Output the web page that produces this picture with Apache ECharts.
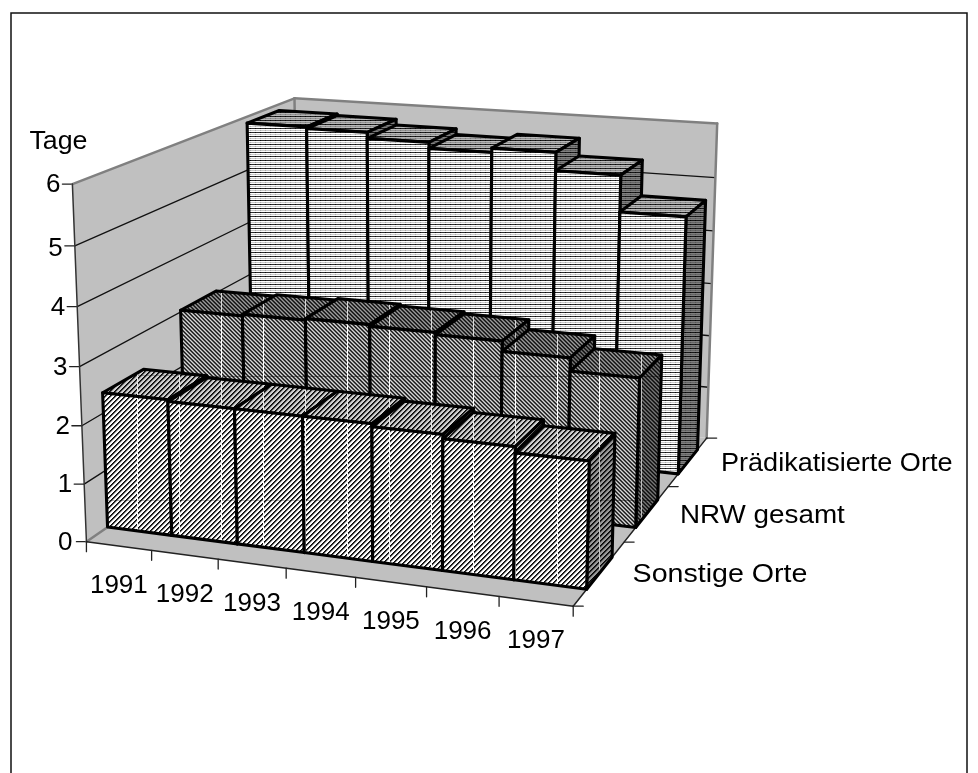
<!DOCTYPE html>
<html><head><meta charset="utf-8">
<style>html,body{margin:0;padding:0;background:#fff}#c{width:978px;height:773px}</style>
<script src="https://cdn.jsdelivr.net/npm/echarts@6/dist/echarts.min.js"></script>
</head><body><div id="c"></div>
<script>
var categories = ['1991','1992','1993','1994','1995','1996','1997'];
var rows = ['Sonstige Orte','NRW gesamt','Prädikatisierte Orte'];
var sonstige = [2.35,2.32,2.32,2.32,2.27,2.20,2.10];
var nrw = [3.03,3.06,3.09,3.06,3.02,2.84,2.61];
var praedikat = [5.88,5.85,5.74,5.63,5.71,5.38,4.72];
var yTicks = [0,1,2,3,4,5,6];
var yMax = 6;

// Plot box calibration: unit cube corner -> screen position
var box = [
  [0,0,0, 87,541],[1,0,0, 573,607],[1,1,0, 707,437],[0,1,0, 298,396],
  [0,0,1, 72,184],[1,1,1, 717,124],[0,1,1, 295,98]
];
var rowLabelStretch = [1.1,1.07,1.04];
function solve(A,b){var n=b.length;for(var i=0;i<n;i++){var m=i;for(var r=i+1;r<n;r++)if(Math.abs(A[r][i])>Math.abs(A[m][i]))m=r;
  var t=A[i];A[i]=A[m];A[m]=t;t=b[i];b[i]=b[m];b[m]=t;
  for(r=i+1;r<n;r++){var f=A[r][i]/A[i][i];for(var c=i;c<n;c++)A[r][c]-=f*A[i][c];b[r]-=f*b[i];}}
  var x=[];for(i=n-1;i>=0;i--){var s=b[i];for(c=i+1;c<n;c++)s-=A[i][c]*x[c];x[i]=s/A[i][i];}return x;}
function fit(){var M=[],v=[];box.forEach(function(p){var X=p[0],Y=p[1],Z=p[2],x=p[3],y=p[4];
  M.push([X,Y,Z,1,0,0,0,0,-x*X,-x*Y,-x*Z]);v.push(x);M.push([0,0,0,0,X,Y,Z,1,-y*X,-y*Y,-y*Z]);v.push(y);});
  var A=[],b=[];for(var i=0;i<11;i++){A.push([]);var s=0;for(var j=0;j<11;j++){var q=0;for(var k=0;k<M.length;k++)q+=M[k][i]*M[k][j];A[i].push(q);}
  for(k=0;k<M.length;k++)s+=M[k][i]*v[k];b.push(s);}return solve(A,b);}
var P=fit();
function proj(u,w,h){var d=P[8]*u+P[9]*w+P[10]*h+1;return [(P[0]*u+P[1]*w+P[2]*h+P[3])/d,(P[4]*u+P[5]*w+P[6]*h+P[7])/d];}

// patterns
function tile(W,H,fn){var c=document.createElement('canvas');c.width=W;c.height=H;var g=c.getContext('2d');
  for(var x=0;x<W;x++)for(var y=0;y<H;y++){var l=Math.round(fn(x,y));g.fillStyle='rgb('+l+','+l+','+l+')';g.fillRect(x,y,1,1);}
  return {image:c,repeat:'repeat'};}
function backPat(f){return tile(5,4,function(x,y){var k=y%4,l=k==0?45:(k==2?205:255);if(x%5==0)l=k==0?10:(k==2?170:248);return l*f;});}
function midPat(f){return tile(84,124,function(x,y){if(x%42==11)return 255*Math.sqrt(f);var k=(x-y+1240)%4;var l=[25,90,215,140][k];if(y%124==4)l*=.6;return l*f;});}
function frontPat(f){return tile(210,125,function(x,y){if(x%42==11)return 255*Math.sqrt(f);var k=(x+y)%5;var l=[10,60,200,255,255][k];if(y%125==0)l*=.75;return l*f;});}
var pats=[
  {front:frontPat(1),top:frontPat(.82),side:frontPat(.6)},
  {front:midPat(1),top:midPat(.72),side:midPat(.55)},
  {front:backPat(1),top:backPat(.72),side:backPat(.5)}
];

var grid={left:72,top:184,width:500,height:357};
function normU(px){return (px-grid.left)/grid.width;}
function normH(py){return (grid.top+grid.height-py)/grid.height;}
var FONT='"Liberation Sans",Arial,sans-serif';
function line(a,b,color,w){return {type:'line',shape:{x1:a[0],y1:a[1],x2:b[0],y2:b[1]},style:{stroke:color,lineWidth:w,lineCap:'round'},silent:true};}
function poly(pts,fill,stroke,w){return {type:'polygon',shape:{points:pts},style:{fill:fill,stroke:stroke,lineWidth:w,lineJoin:'round'},silent:true};}
function text(t,x,y,sx,align,size){return {type:'text',x:x,y:y,scaleX:sx,style:{text:t,fill:'#000',font:size+'px '+FONT,textAlign:align,textVerticalAlign:'middle'},silent:true};}

function renderBox(params,api){
  var ch=[],wall='#c0c0c0',edge='#808080',axis='#222';
  ch.push(poly([proj(0,0,0),proj(1,0,0),proj(1,1,0),proj(0,1,0)],wall,null,0));
  ch.push(poly([proj(0,0,0),proj(0,1,0),proj(0,1,1),proj(0,0,1)],wall,null,0));
  ch.push(poly([proj(0,1,0),proj(1,1,0),proj(1,1,1),proj(0,1,1)],wall,null,0));
  yTicks.forEach(function(v){var h=normH(api.coord([0,v])[1]);
    if(v>0&&v<yMax){ch.push(line(proj(0,0,h),proj(0,1,h),'#111',1.3));ch.push(line(proj(0,1,h),proj(1,1,h),'#111',1.3));}
    var a=proj(0,0,h);ch.push(line(a,[a[0]-10,a[1]],axis,1.3));
    ch.push(text(String(v),a[0]-(v==0?14:12),a[1]+(v==5?3:1),1,'right',26));
  });
  var e6=proj(0,0,1);
  ch.push(text('Tage',e6[0]-43,e6[1]-42,1.03,'left',26));
  ch.push(line(proj(0,0,1),proj(0,1,1),edge,2.5));
  ch.push(line(proj(0,1,1),proj(1,1,1),edge,2.5));
  ch.push(line(proj(1,1,1),proj(1,1,0),edge,2.5));
  ch.push(line(proj(0,1,1),proj(0,1,0),edge,2.5));
  ch.push(line(proj(0,0,0),proj(0,1,0),edge,2.5));
  ch.push(line(proj(0,0,0),proj(0,0,1),'#333',1.5));
  ch.push(line(proj(0,0,0),proj(1,0,0),axis,1.5));
  ch.push(line(proj(1,0,0),proj(1,1,0),axis,1.5));
  categories.forEach(function(c,i){
    var half=api.size([1,0])[0]/2,cx=api.coord([i,0])[0];
    var u0=normU(cx-half),a=proj(u0,0,0);ch.push(line(a,[a[0],a[1]+10],axis,1.3));
    if(i==categories.length-1){var e=proj(1,0,0);ch.push(line(e,[e[0],e[1]+10],axis,1.3));}
    var m=proj(normU(cx),0,0);
    ch.push(text(c,m[0],m[1]+40,1,'center',26));
  });
  rows.forEach(function(r,i){
    var t=proj(1,i/rows.length,0);ch.push(line(t,[t[0]+10,t[1]],axis,1.3));
    var e=proj(1,(i+.5)/rows.length,0);ch.push(text(r,e[0]+33,e[1]+2,rowLabelStretch[i],'left',26));
  });
  var t=proj(1,1,0);ch.push(line(t,[t[0]+10,t[1]],axis,1.3));
  return {type:'group',children:ch};
}
function renderBar(rowIdx){return function(params,api){
  var i=api.value(0),val=api.value(1);
  var c=api.coord([i,val]),half=api.size([1,0])[0]/2;
  var u0=normU(c[0]-half),u1=normU(c[0]+half),h=normH(c[1]);
  var w0=(rowIdx+.5)/rows.length-1/12,w1=(rowIdx+.5)/rows.length+1/12;
  var p=pats[rowIdx],lw=3.1;
  return {type:'group',children:[
    poly([proj(u0,w0,h),proj(u1,w0,h),proj(u1,w1,h),proj(u0,w1,h)],p.top,'#000',lw),
    poly([proj(u1,w0,0),proj(u1,w1,0),proj(u1,w1,h),proj(u1,w0,h)],p.side,'#000',lw),
    poly([proj(u0,w0,0),proj(u1,w0,0),proj(u1,w0,h),proj(u0,w0,h)],p.front,'#000',lw)
  ]};
};}
function pairs(a){return a.map(function(v,i){return [i,v];});}

var chart=echarts.init(document.getElementById('c'),null,{renderer:'canvas'});
chart.setOption({
  animation:false,backgroundColor:'#fff',
  graphic:[{type:'polyline',shape:{points:[[11,800],[11,13],[967,13],[967,800]]},style:{stroke:'#111',lineWidth:1.5,fill:null},silent:true}],
  grid:grid,
  xAxis:{type:'category',data:categories,show:false},
  yAxis:{type:'value',min:0,max:yMax,interval:1,show:false},
  series:[
    {type:'custom',name:'box',data:[[0,0]],renderItem:renderBox,clip:false,silent:true},
    {type:'custom',name:rows[2],data:pairs(praedikat),renderItem:renderBar(2),clip:false,silent:true},
    {type:'custom',name:rows[1],data:pairs(nrw),renderItem:renderBar(1),clip:false,silent:true},
    {type:'custom',name:rows[0],data:pairs(sonstige),renderItem:renderBar(0),clip:false,silent:true}
  ]
});
</script></body></html>
